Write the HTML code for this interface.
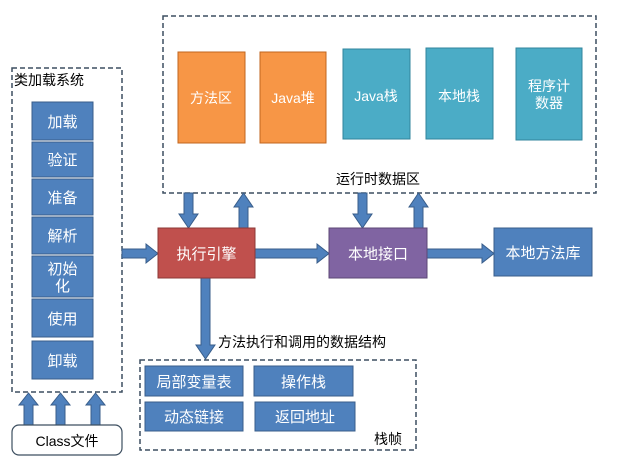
<!DOCTYPE html>
<html><head><meta charset="utf-8"><style>
html,body{margin:0;padding:0;background:#fff}
svg{display:block}
text{font-family:"Liberation Sans","Noto Sans CJK SC",sans-serif}
</style></head><body>
<svg width="621" height="468" viewBox="0 0 621 468" xmlns="http://www.w3.org/2000/svg">
<defs>
<g id="ad"><polygon points="-5,0 5,0 5,-1 5,0"/></g>
</defs>
<rect width="621" height="468" fill="#fff"/>
<g fill="none" stroke="#3d4f60" stroke-width="1.5" stroke-dasharray="5,3">
<rect x="163" y="16" width="433" height="177"/>
<rect x="12" y="68" width="110" height="324"/>
<rect x="140" y="360" width="276" height="90"/>
</g>
<!-- runtime boxes -->
<g stroke="#c0661f" fill="#f79646" stroke-width="1">
<rect x="178" y="52" width="67" height="91"/>
<rect x="260" y="52" width="66" height="91"/>
</g>
<g stroke="#31859c" fill="#4bacc6" stroke-width="1">
<rect x="343" y="49" width="67" height="90"/>
<rect x="426" y="48" width="67" height="91"/>
<rect x="516" y="48" width="66" height="92"/>
</g>
<g fill="#fff" font-size="14" text-anchor="middle">
<text x="211" y="103">方法区</text>
<text x="293" y="103">Java堆</text>
<text x="376" y="101">Java栈</text>
<text x="459" y="101">本地栈</text>
<text x="549" y="91">程序计</text>
<text x="549" y="108">数器</text>
</g>
<text x="378" y="184" font-size="14" text-anchor="middle" fill="#000">运行时数据区</text>
<!-- block arrows -->
<g fill="#4f81bd" stroke="#385d8a" stroke-width="1">
<!-- down to engine -->
<polygon points="184,193 193,193 193,214 198,214 188.5,228 179,214 184,214"/>
<!-- up from engine -->
<polygon points="239,228 248,228 248,207 253,207 243.5,193 234,207 239,207"/>
<!-- down to interface -->
<polygon points="358,193 367,193 367,214 372,214 362.5,228 353,214 358,214"/>
<!-- up from interface -->
<polygon points="414,228 423,228 423,207 428,207 418.5,193 409,207 414,207"/>
<!-- horizontals -->
<polygon points="122,249 146,249 146,244 158,253.5 146,263 146,258 122,258"/>
<polygon points="255,249 317,249 317,244 329,253.5 317,263 317,258 255,258"/>
<polygon points="427,249 482,249 482,244 494,253.5 482,263 482,258 427,258"/>
<!-- down to stack frame -->
<polygon points="201,278 210,278 210,345 215,345 205.5,359 196,345 201,345"/>
<!-- class file arrows up -->
<polygon points="24,425 33,425 33,405 38,405 28.5,393 19,405 24,405"/>
<polygon points="56,425 65,425 65,405 70,405 60.5,393 51,405 56,405"/>
<polygon points="91,425 100,425 100,405 105,405 95.5,393 86,405 91,405"/>
</g>
<!-- engine etc -->
<rect x="158" y="228" width="97" height="50" fill="#c0504d" stroke="#8c3836"/>
<rect x="329" y="228" width="98" height="50" fill="#8064a2" stroke="#5c4776"/>
<rect x="494" y="228" width="98" height="48" fill="#4f81bd" stroke="#385d8a"/>
<g fill="#fff" font-size="15" text-anchor="middle">
<text x="206.5" y="259">执行引擎</text>
<text x="378" y="259">本地接口</text>
<text x="543" y="258">本地方法库</text>
</g>
<!-- class loader -->
<text x="14" y="85" font-size="14" fill="#000">类加载系统</text>
<g fill="#4f81bd" stroke="#385d8a">
<rect x="32" y="102" width="61" height="38"/>
<rect x="32" y="142" width="61" height="35"/>
<rect x="32" y="179" width="61" height="36"/>
<rect x="32" y="217" width="61" height="37"/>
<rect x="32" y="256" width="61" height="41"/>
<rect x="32" y="299" width="61" height="38"/>
<rect x="32" y="341" width="61" height="38"/>
</g>
<g fill="#fff" font-size="15" text-anchor="middle">
<text x="62.5" y="127">加载</text>
<text x="62.5" y="165">验证</text>
<text x="62.5" y="203">准备</text>
<text x="62.5" y="241">解析</text>
<text x="62.5" y="274">初始</text>
<text x="62.5" y="291">化</text>
<text x="62.5" y="324">使用</text>
<text x="62.5" y="366">卸载</text>
</g>
<rect x="12" y="425" width="110" height="30" rx="7" fill="#fff" stroke="#3d4f60" stroke-width="1.2"/>
<text x="67" y="446" font-size="14" text-anchor="middle" fill="#000">Class文件</text>
<!-- stack frame -->
<text x="218" y="347" font-size="14" fill="#000">方法执行和调用的数据结构</text>
<g fill="#4f81bd" stroke="#385d8a">
<rect x="145" y="366" width="98" height="30"/>
<rect x="254" y="366" width="99" height="30"/>
<rect x="145" y="402" width="98" height="29"/>
<rect x="255" y="402" width="100" height="29"/>
</g>
<g fill="#fff" font-size="15" text-anchor="middle">
<text x="194" y="387">局部变量表</text>
<text x="303.5" y="387">操作栈</text>
<text x="194" y="422">动态链接</text>
<text x="305" y="422">返回地址</text>
</g>
<text x="374" y="444" font-size="14" fill="#000">栈帧</text>
</svg>
</body></html>
